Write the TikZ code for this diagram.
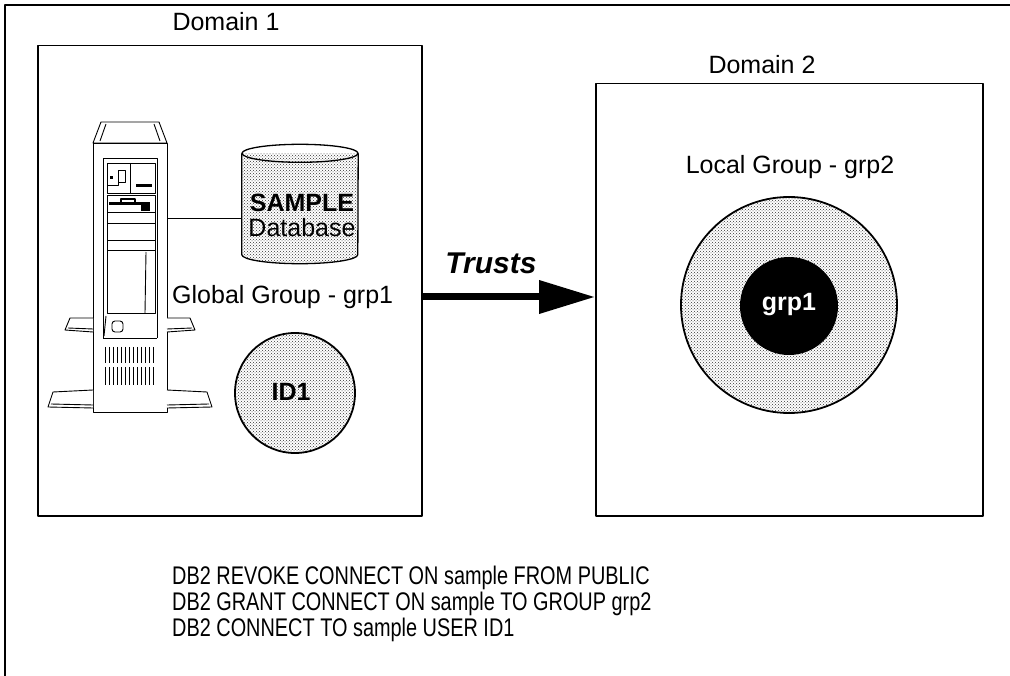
\documentclass[tikz,border=0pt]{standalone}
\usepackage{fontspec}
\setmainfont{Liberation Sans}
\newfontfamily\cmdfont[FakeStretch=0.78]{Liberation Sans}
\usetikzlibrary{arrows.meta,patterns}
\definecolor{dotgray}{gray}{0.2}
\begin{document}
\begin{tikzpicture}[x=1pt,y=-1pt,line join=round,
  frameline/.style={line width=1.6pt},
  domainbox/.style={draw,line width=1.5pt,inner sep=0pt,anchor=north west},
  lbl/.style={font=\fontsize{25}{26}\selectfont,inner sep=0pt},
  boldlbl/.style={font=\fontsize{25}{26}\selectfont\bfseries,inner sep=0pt},
  pcline/.style={line width=0.9pt},
  stipple/.style={pattern=crosshatch dots,pattern color=dotgray},
  groupdisk/.style={circle,draw,line width=1.8pt,fill=white,inner sep=0pt}]
\useasboundingbox (0,0) rectangle (1010,676);

% outer frame (top and left edges)
\draw[frameline] (1010,5) -- (5,5) -- (5,676);

% the two domains
\node[domainbox,minimum width=384pt,minimum height=470pt] (d1) at (37,45) {};
\node[domainbox,minimum width=387pt,minimum height=432pt] (d2) at (595,83) {};
\node[lbl] (d1lbl) at (226,22) {Domain 1};
\node[lbl] (d2lbl) at (762,65) {Domain 2};

% ---- server tower ----
\node[draw,pcline,minimum width=74pt,minimum height=269pt,inner sep=0pt,anchor=north west] (pc) at (93,143) {};
% top cap
\draw[pcline,fill=white] (93,143) -- (101,122) -- (159,122) -- (167,143) -- cycle;
\draw[pcline] (106,124) -- (100,141);
\draw[pcline] (154,124) -- (160,141);
% front panel
\draw[pcline] (103,338) -- (103,158) -- (157,158) -- (157,338);
\draw[pcline] (103,338) -- (157,338);
% top bay row
\draw[pcline] (107,163) rectangle (155,193);
\draw[pcline] (130,163) -- (130,193);
\draw[pcline] (118,170) rectangle (125,182);
\fill (110,176) rectangle (113,179);
\draw[pcline] (107,185) -- (118,185) -- (118,182);
\fill (136,184) rectangle (152,187);
% diskette bay
\draw[pcline] (107,195) rectangle (155,212);
\fill (109,202) rectangle (150,205);
\draw[line width=1.5pt] (121,205) -- (121,199) -- (135,199) -- (135,205);
\fill (141,205) rectangle (150,211);
% further bays
\draw[pcline] (107,212) rectangle (155,223);
\draw[pcline] (107,223) rectangle (155,240);
\draw[pcline] (107,240) rectangle (155,250);
\draw[pcline] (107,250) rectangle (155,313);
\draw[pcline] (146,252) -- (145,313);
% door and button
\draw[pcline] (106,316) -- (104,336);
\draw[pcline,rounded corners=3pt] (112,321) rectangle (123,332);
% vents
\foreach \vx in {105,109,...,155} {
  \draw[line width=0.8pt] (\vx,347) -- (\vx,363);
  \draw[line width=0.8pt] (\vx,367) -- (\vx,385);
}
% feet
\draw[pcline,fill=white] (93,318) -- (70,318) -- (65,330) -- (93,332);
\draw[pcline] (68,328) -- (93,329);
\draw[pcline,fill=white] (167,318) -- (190,318) -- (195,330) -- (167,332);
\draw[pcline] (192,328) -- (167,329);
\draw[pcline,fill=white] (93,390) -- (53,392) -- (48,407) -- (93,408);
\draw[pcline] (51,404) -- (93,405);
\draw[pcline,fill=white] (167,390) -- (207,392) -- (212,407) -- (167,408);
\draw[pcline] (209,404) -- (167,405);

% ---- database cylinder ----
\node[minimum width=116pt,minimum height=101pt,inner sep=0pt] (db) at (300,204) {};
\path[fill=white] (db.north west) -- (db.south west)
  arc[start angle=180,end angle=0,x radius=58,y radius=9] -- (db.north east) -- cycle;
\path[stipple] (db.north west) -- (db.south west)
  arc[start angle=180,end angle=0,x radius=58,y radius=9] -- (db.north east) -- cycle;
\draw[line width=1.3pt] (db.north west) -- (db.south west)
  arc[start angle=180,end angle=0,x radius=58,y radius=9] -- (db.north east);
\draw[line width=1.3pt] (db.north) ellipse[x radius=58,y radius=9];
\node[boldlbl] (dbname) at (302,203) {SAMPLE};
\node[lbl] (dbsub) at (302,228) {Database};
\draw[pcline] (pc.east |- 0,218) -- (db.west |- 0,218);

% global group
\node[lbl,anchor=west] (gg) at (172,297) {Global Group - grp1};
\node[groupdisk,minimum size=120pt] (id1) at (295,393) {};
\path[stipple] (id1.center) circle[radius=59];
\node[boldlbl] (id1lbl) at (291,392) {ID1};

% trust relation
\coordinate (ay) at (0,297);
\draw[line width=7pt,-{Triangle[length=56pt,width=32pt]}] (d1.east |- ay) -- (d2.west |- ay);
\node[font=\fontsize{30}{30}\selectfont\bfseries\itshape,inner sep=0pt] (tr) at (491,263) {Trusts};

% local group in domain 2
\node[lbl] (lg) at (790,167) {Local Group - grp2};
\node[groupdisk,minimum size=216pt] (grp2) at (789,305) {};
\path[stipple] (grp2.center) circle[radius=107];
\node[circle,fill=black,minimum size=98pt,inner sep=0pt] (grp1) at (789,306) {};
\node[boldlbl,text=white] (grp1lbl) at (789,305) {grp1};

% commands
\node[anchor=west,align=left,inner sep=0pt,font=\cmdfont\fontsize{25.5}{26}\selectfont] (cmds) at (172,604)
  {DB2 REVOKE CONNECT ON sample FROM PUBLIC\\
   DB2 GRANT CONNECT ON sample TO GROUP grp2\\
   DB2 CONNECT TO sample USER ID1};
\end{tikzpicture}
\end{document}
